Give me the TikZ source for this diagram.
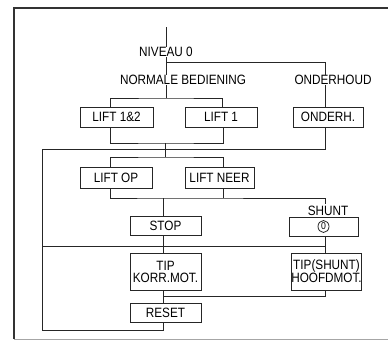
\documentclass[tikz,border=0pt]{standalone}
\usepackage{fontspec}
\usetikzlibrary{shapes.geometric}
\setmainfont[FakeStretch=0.87]{Liberation Sans}
\begin{document}
\begin{tikzpicture}[x=1pt,y=-1pt,
  ln/.style={draw=black!85,line width=0.8pt},
  bx/.style={draw=black!85,line width=0.8pt,inner sep=0pt,minimum height=20pt,align=center,font=\fontsize{13.5}{12}\selectfont},
  lbl/.style={inner sep=0pt,font=\fontsize{13.5}{13}\selectfont}]
\useasboundingbox (0,0) rectangle (388,341);
% frame
\draw[black!80,line width=1.2pt] (388,8) -- (14,8) -- (14,339);
\draw[black!35,line width=0.6pt] (14,339) -- (388,339);
% labels
\node[lbl] (niveau) at (166,52) {NIVEAU 0};
\node[lbl] (normale) at (183,80) {NORMALE BEDIENING};
\node[lbl] (onderhoud) at (333,80) {ONDERHOUD};
\node[lbl] (shuntl) at (328,211) {SHUNT};
% boxes
\node[bx,minimum width=73pt] (lift12) at (116.5,117) {LIFT 1\&2};
\node[bx,minimum width=72pt] (lift1) at (221,117) {LIFT 1};
\node[bx,minimum width=70pt] (onderh) at (328,117) {ONDERH.};
\node[bx,minimum width=72pt,minimum height=21pt] (liftop) at (116,177.5) {LIFT OP};
\node[bx,minimum width=69pt,minimum height=21pt] (liftneer) at (219.5,177.5) {LIFT NEER};
\node[bx,minimum width=71pt,minimum height=19pt] (stop) at (165.5,225.5) {STOP};
\node[bx,minimum width=69pt,minimum height=19pt] (shunt) at (323.5,226.5) {};
\node[draw=black!85,line width=0.8pt,ellipse,inner sep=0.3pt,minimum width=11pt,minimum height=12pt,font=\fontsize{10}{10}\selectfont] (zero) at (shunt.center) {0};
\node[bx,minimum width=71pt,minimum height=37pt] (tip) at (165.5,271.5) {TIP\\KORR.MOT.};
\node[bx,minimum width=69pt,minimum height=37pt] (tipshunt) at (326.5,271.5) {TIP(SHUNT)\\HOOFDMOT.};
\node[bx,minimum width=71pt,minimum height=19pt] (reset) at (165.5,312.5) {RESET};
% junction coordinates
\coordinate (top) at (166,27);
\coordinate (j0) at (166,62);
\coordinate (ja) at (166,98);
\coordinate (jb) at (165,143);
\coordinate (jc) at (42,149);
\coordinate (jd) at (163,198);
\coordinate (je) at (42,246);
\coordinate (jf) at (163,296);
\coordinate (jg) at (42,330);
% connectors
\draw[ln] (top) -- (niveau.north);
\draw[ln] (niveau.south) -- (niveau.south |- normale.north);
\draw[ln] (j0) -| (325,0 |- onderhoud.north);
\draw[ln] (normale.south -| ja) -- (ja);
\draw[ln] (lift12.north -| 110,0) |- (ja) -| (lift1.north -| 222,0);
\draw[ln] (onderhoud.south -| 325,0) -- (onderh.north -| 325,0);
\draw[ln] (lift12.south -| 110,0) |- (jb) -| (lift1.south -| 223,0);
\draw[ln] (jb) -- (165,157);
\draw[ln] (liftop.north -| 110,0) |- (165,157) -| (liftneer.north -| 223,0);
\draw[ln] (onderh.south -| 325,0) |- (jc);
\draw[ln] (jc) -- (jg) -| (reset.south -| 163,0);
\draw[ln] (liftop.south -| 110,0) |- (jd) -| (325,204);
\draw[ln] (liftneer.south -| 223,0) -- (223,198);
\draw[ln] (jd) -- (stop.north -| jd);
\draw[ln] (stop.south -| jd) -- (tip.north -| jd);
\draw[ln] (je) -- (325,246);
\draw[ln] (shunt.south -| 325,0) -- (tipshunt.north -| 325,0);
\draw[ln] (tip.south -| jf) -- (reset.north -| jf);
\draw[ln] (tipshunt.south -| 325,0) |- (jf);
\end{tikzpicture}
\end{document}
